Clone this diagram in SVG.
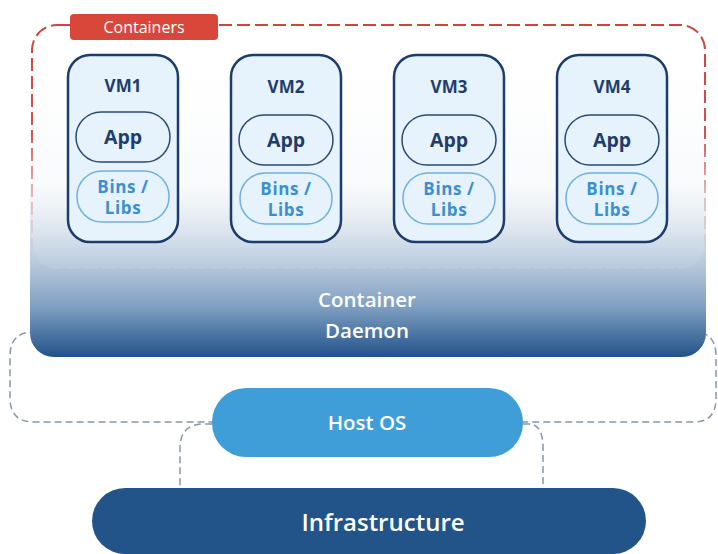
<svg xmlns="http://www.w3.org/2000/svg" width="718" height="554" viewBox="0 0 718 554">
  <defs>
    <linearGradient id="daemonFill" x1="0" y1="25" x2="0" y2="357" gradientUnits="userSpaceOnUse">
      <stop offset="0" stop-color="#ffffff" stop-opacity="0"/>
      <stop offset="0.48" stop-color="#f4f7fa" stop-opacity="0.6"/>
      <stop offset="0.62" stop-color="#d9e3ed"/>
      <stop offset="0.75" stop-color="#abc0d7"/>
      <stop offset="0.85" stop-color="#7f9fc1"/>
      <stop offset="1" stop-color="#22528a"/>
    </linearGradient>
    <linearGradient id="redFade" x1="0" y1="25" x2="0" y2="268" gradientUnits="userSpaceOnUse">
      <stop offset="0" stop-color="#cc463c"/>
      <stop offset="0.45" stop-color="#d0544a"/>
      <stop offset="0.75" stop-color="#d8a6a6" stop-opacity="0.6"/>
      <stop offset="1" stop-color="#c9d4e0" stop-opacity="0.3"/>
    </linearGradient>
    <style>
      .vm { fill: #e6f2fc; stroke: #1c3c6b; stroke-width: 2.5; }
      .app { fill: #e6f2fc; stroke: #2b4a74; stroke-width: 1.5; }
      .bins { fill: #e6f2fc; stroke: #6fb0de; stroke-width: 1.5; }
      .t { font-family: "Open Sans", Lato, "Liberation Sans", sans-serif; text-anchor: middle; }
      .vmt { font-size: 17px; font-weight: 700; fill: #1f3d69; }
      .appt { font-size: 19.5px; font-weight: 700; fill: #1f3d69; }
      .binst { font-size: 17px; font-weight: 700; fill: #3b8fd0; letter-spacing: 0.6px; }
      .wt { fill: #ffffff; }
      .link { fill: none; stroke: #8796ab; stroke-width: 1.5; stroke-dasharray: 7 4; }
    </style>
  </defs>

  <rect width="718" height="554" fill="#ffffff"/>

  <!-- connectors between layers -->
  <g id="connectors">
    <path class="link" d="M48,332 H34 Q10,332 10,356 V398 Q10,422 34,422 H212"/>
    <path class="link" d="M690,332 H694 Q716,332 716,356 V398 Q716,422 694,422 H523"/>
    <path class="link" d="M212,424 H204 Q180,424 180,448 V488"/>
    <path class="link" d="M523,424 H529 Q543,424 543,448 V488"/>
  </g>

  <!-- container daemon layer -->
  <g id="daemon">
    <rect x="30" y="25" width="676" height="332" rx="24" fill="url(#daemonFill)"/>
    <text class="t wt" x="367" y="307" font-size="20.5" font-weight="600">Container</text>
    <text class="t wt" x="367" y="338" font-size="20.5" font-weight="600">Daemon</text>
  </g>

  <!-- containers group outline -->
  <g id="containers">
    <rect x="32" y="25" width="673" height="243" rx="25" fill="#ffffff" fill-opacity="0.08" stroke="url(#redFade)" stroke-width="2" stroke-dasharray="13 5"/>
    <rect x="70" y="14" width="148" height="26" rx="4" fill="#d9473a"/>
    <text class="t wt" x="144" y="32.5" font-size="16">Containers</text>
  </g>

  <g id="vm1">
    <rect class="vm" x="68" y="55" width="110" height="187" rx="22"/>
    <text class="t vmt" x="123" y="92">VM1</text>
    <rect class="app" x="76" y="112" width="94" height="50" rx="25"/>
    <text class="t appt" x="123" y="144">App</text>
    <rect class="bins" x="77" y="171" width="92" height="51" rx="25"/>
    <text class="t binst" x="123" y="193">Bins /</text>
    <text class="t binst" x="123" y="214">Libs</text>
  </g>

  <g id="vm2">
    <rect class="vm" x="231" y="55" width="110" height="187" rx="22"/>
    <text class="t vmt" x="286" y="93">VM2</text>
    <rect class="app" x="239" y="115" width="94" height="50" rx="25"/>
    <text class="t appt" x="286" y="147">App</text>
    <rect class="bins" x="240" y="173" width="92" height="51" rx="25"/>
    <text class="t binst" x="286" y="195">Bins /</text>
    <text class="t binst" x="286" y="216">Libs</text>
  </g>

  <g id="vm3">
    <rect class="vm" x="394" y="55" width="110" height="187" rx="22"/>
    <text class="t vmt" x="449" y="93">VM3</text>
    <rect class="app" x="402" y="115" width="94" height="50" rx="25"/>
    <text class="t appt" x="449" y="147">App</text>
    <rect class="bins" x="403" y="173" width="92" height="51" rx="25"/>
    <text class="t binst" x="449" y="195">Bins /</text>
    <text class="t binst" x="449" y="216">Libs</text>
  </g>

  <g id="vm4">
    <rect class="vm" x="557" y="55" width="110" height="187" rx="22"/>
    <text class="t vmt" x="612" y="93">VM4</text>
    <rect class="app" x="565" y="115" width="94" height="50" rx="25"/>
    <text class="t appt" x="612" y="147">App</text>
    <rect class="bins" x="566" y="173" width="92" height="51" rx="25"/>
    <text class="t binst" x="612" y="195">Bins /</text>
    <text class="t binst" x="612" y="216">Libs</text>
  </g>

  <g id="host-os">
    <rect x="212" y="388" width="311" height="69" rx="34" fill="#3f9ed8"/>
    <text class="t wt" x="367" y="430" font-size="20.5" font-weight="600">Host OS</text>
  </g>

  <g id="infrastructure">
    <rect x="92" y="488" width="554" height="66" rx="33" fill="#22548a"/>
    <text class="t wt" x="383" y="531" font-size="24" font-weight="600">Infrastructure</text>
  </g>
</svg>
